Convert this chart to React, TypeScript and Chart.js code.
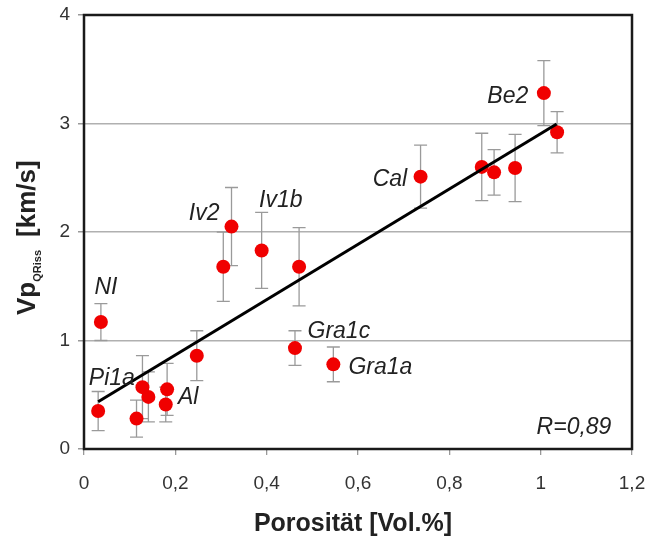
import React, { useEffect, useRef } from "react";
import { Chart, registerables } from "chart.js";

Chart.register(...registerables);

// ---- data ----
const porosity = [0.031, 0.037, 0.115, 0.128, 0.141, 0.182, 0.179, 0.247, 0.305, 0.323, 0.389, 0.471, 0.462, 0.546, 0.737, 0.871, 0.898, 0.944, 1.007, 1.036];
const vpQRiss = [0.35, 1.17, 0.28, 0.57, 0.48, 0.55, 0.41, 0.86, 1.68, 2.05, 1.83, 1.68, 0.93, 0.78, 2.51, 2.60, 2.55, 2.59, 3.28, 2.92];
const vpError = [0.18, 0.17, 0.17, 0.29, 0.23, 0.24, 0.16, 0.23, 0.32, 0.36, 0.35, 0.36, 0.16, 0.16, 0.29, 0.31, 0.21, 0.31, 0.30, 0.19];

const trendX = [0.031, 1.035];
const trendY = [0.436, 2.995];

const sampleNames = ["NI", "Pi1a", "Al", "Iv2", "Iv1b", "Gra1c", "Gra1a", "Cal", "Be2"];
const sampleLabelX = [0.048, 0.061, 0.228, 0.263, 0.431, 0.558, 0.649, 0.67, 0.928];
const sampleLabelY = [1.5, 0.654, 0.48, 2.18, 2.30, 1.088, 0.76, 2.49, 3.256];

const rText = "R=0,89";
const rLabelX = 1.073;
const rLabelY = 0.203;

const xTitle = "Porosität [Vol.%]";
const yTitleMain = "Vp";
const yTitleSub = "QRiss";
const yTitleUnit = "[km/s]";

const FONT = "'Liberation Sans', Arial, Helvetica, sans-serif";

const fmt = (v: number) => String(Math.round(v * 10) / 10).replace(".", ",");

export default function App() {
  const ref = useRef<HTMLCanvasElement | null>(null);

  useEffect(() => {
    document.body.style.margin = "0";
    const canvas = ref.current;
    if (!canvas) return;

    const overlay = {
      id: "overlay",
      beforeDatasetsDraw(chart: any) {
        const { ctx, scales } = chart;
        const xs = scales.x;
        const ys = scales.y;
        ctx.save();
        ctx.strokeStyle = "#9a9a9a";
        ctx.lineWidth = 1.3;
        for (let i = 0; i < porosity.length; i++) {
          const px = xs.getPixelForValue(porosity[i]);
          const top = ys.getPixelForValue(vpQRiss[i] + vpError[i]);
          const bot = ys.getPixelForValue(vpQRiss[i] - vpError[i]);
          ctx.beginPath();
          ctx.moveTo(px, top);
          ctx.lineTo(px, bot);
          ctx.moveTo(px - 6.5, top);
          ctx.lineTo(px + 6.5, top);
          ctx.moveTo(px - 6.5, bot);
          ctx.lineTo(px + 6.5, bot);
          ctx.stroke();
        }
        ctx.restore();
      },
      afterDraw(chart: any) {
        const { ctx, scales, chartArea } = chart;
        const xs = scales.x;
        const ys = scales.y;
        ctx.save();
        // frame
        ctx.strokeStyle = "#1a1a1a";
        ctx.lineWidth = 2.5;
        ctx.strokeRect(chartArea.left, chartArea.top, chartArea.right - chartArea.left, chartArea.bottom - chartArea.top);

        // sample labels
        ctx.fillStyle = "#222";
        ctx.font = `italic 23px ${FONT}`;
        ctx.textAlign = "center";
        ctx.textBaseline = "middle";
        for (let i = 0; i < sampleNames.length; i++) {
          ctx.fillText(sampleNames[i], xs.getPixelForValue(sampleLabelX[i]), ys.getPixelForValue(sampleLabelY[i]) + 1);
        }
        ctx.fillText(rText, xs.getPixelForValue(rLabelX), ys.getPixelForValue(rLabelY) + 1);

        // x title
        ctx.font = `bold 25px ${FONT}`;
        ctx.textBaseline = "alphabetic";
        ctx.fillStyle = "#222";
        ctx.fillText(xTitle, 353, 531);

        // y title (rotated, with subscript)
        ctx.translate(35, 315);
        ctx.rotate(-Math.PI / 2);
        ctx.textAlign = "left";
        ctx.font = `bold 26px ${FONT}`;
        ctx.fillText(yTitleMain, 0, 0);
        let off = ctx.measureText(yTitleMain).width;
        ctx.font = `bold 11px ${FONT}`;
        ctx.fillText(yTitleSub, off, 6);
        off += ctx.measureText(yTitleSub).width + 13;
        ctx.font = `bold 26px ${FONT}`;
        ctx.fillText(yTitleUnit, off, 0);
        ctx.restore();
      },
    };

    const chart = new Chart(canvas, {
      type: "scatter",
      data: {
        datasets: [
          {
            type: "line",
            data: trendX.map((x, i) => ({ x, y: trendY[i] })),
            borderColor: "#000",
            borderWidth: 3,
            pointRadius: 0,
            showLine: true,
            fill: false,
            order: 0,
          } as any,
          {
            type: "scatter",
            data: porosity.map((x, i) => ({ x, y: vpQRiss[i] })),
            backgroundColor: "#f00000",
            borderWidth: 0,
            pointRadius: 7,
            order: 1,
          },
        ],
      },
      options: {
        animation: false,
        responsive: false,
        events: [],
        layout: { padding: { top: 15, right: 20, left: 0, bottom: 0 } },
        plugins: { legend: { display: false }, tooltip: { enabled: false } },
        scales: {
          x: {
            type: "linear",
            min: 0,
            max: 1.2,
            afterFit: (s: any) => { s.height = 91; s.paddingRight = 0; s.paddingLeft = 0; },
            ticks: {
              stepSize: 0.2,
              callback: (v: any) => fmt(Number(v)),
              color: "#333",
              font: { family: FONT, size: 19 },
              padding: 17,
              maxRotation: 0,
            },
            grid: {
              drawOnChartArea: false,
              drawTicks: true,
              tickLength: 6,
              tickColor: "#999",
              lineWidth: 1.3,
            },
            border: { display: false },
          },
          y: {
            type: "linear",
            min: 0,
            max: 4,
            afterFit: (s: any) => { s.width = 84; s.paddingTop = 0; s.paddingBottom = 0; },
            ticks: {
              stepSize: 1,
              callback: (v: any) => fmt(Number(v)),
              color: "#333",
              font: { family: FONT, size: 19 },
              padding: 8,
            },
            grid: {
              color: (c: any) => (c.tick && (c.tick.value === 0 || c.tick.value === 4) ? "rgba(0,0,0,0)" : "#b0b0b0"),
              lineWidth: 1.5,
              drawTicks: true,
              tickLength: 6,
              tickColor: "#999",
            },
            border: { display: false },
          },
        },
      },
      plugins: [overlay],
    });

    return () => chart.destroy();
  }, []);

  return (
    <div style={{ width: 652, height: 540 }}>
      <canvas ref={ref} width={652} height={540} style={{ display: "block" }} />
    </div>
  );
}
